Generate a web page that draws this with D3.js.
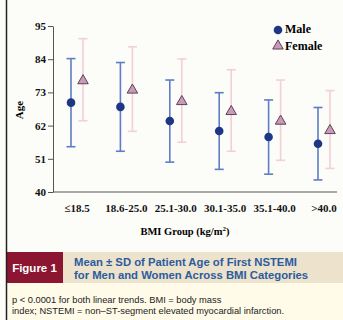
<!DOCTYPE html>
<html>
<head>
<meta charset="utf-8">
<script src="https://cdn.jsdelivr.net/npm/d3@7"></script>
<style>
  body { margin: 0; background: #fcfcf8; }
  svg { display: block; }
</style>
</head>
<body>
<div id="chart"></div>
<script>
// Data
const groups = ["≤18.5", "18.6-25.0", "25.1-30.0", "30.1-35.0", "35.1-40.0", ">40.0"];
const maleMean = [69.6, 68.2, 63.5, 60.2, 58.2, 56.0];
const maleSD = [14.6, 14.7, 13.6, 12.7, 12.3, 12.0];
const femaleMean = [77.2, 74.1, 70.3, 67.0, 63.8, 60.7];
const femaleSD = [13.6, 14.0, 13.8, 13.5, 13.3, 12.9];
const yTicks = [40, 51, 62, 73, 84, 95];

const W = 343, H = 320;
const svg = d3.select("#chart").append("svg")
    .attr("width", W)
    .attr("height", H);

// background pieces
svg.append("rect").attr("x", 0).attr("y", 0).attr("width", W).attr("height", 252).attr("fill", "#fcfcf8");
svg.append("rect").attr("x", 6).attr("y", 252).attr("width", 57).attr("height", 31).attr("fill", "#8c1531");
svg.append("rect").attr("x", 63).attr("y", 252).attr("width", W - 63).attr("height", 31).attr("fill", "#ede2cb");
svg.append("rect").attr("x", 6).attr("y", 283).attr("width", W - 6).attr("height", H - 283).attr("fill", "#fffbe8");
svg.append("line").attr("x1", 6.5).attr("x2", 6.5).attr("y1", 0).attr("y2", H)
    .attr("stroke", "#222").attr("stroke-width", 1.5);

// scales
const x = d3.scalePoint().domain(groups).range([77, 324]);
const y = d3.scaleLinear().domain([40, 95]).range([192, 26]);

const serif = "'Liberation Serif', 'DejaVu Serif', serif";
const sans = "'Liberation Sans', Arial, sans-serif";

// y axis
const yAxis = svg.append("g")
    .attr("transform", "translate(53,0)")
    .call(d3.axisLeft(y).tickValues(yTicks).tickSize(5).tickPadding(2).tickSizeOuter(0));
yAxis.select(".domain").attr("stroke", "#555");
yAxis.selectAll(".tick line").attr("stroke", "#555");
yAxis.selectAll("text")
    .attr("fill", "#111")
    .style("font-family", serif)
    .style("font-weight", "bold")
    .style("font-size", "11px");

// x axis line
svg.append("line")
    .attr("x1", 53).attr("x2", 337)
    .attr("y1", y(40)).attr("y2", y(40))
    .attr("stroke", "#555");

// x labels
svg.selectAll(".xlab")
    .data(groups)
    .enter().append("text")
    .attr("x", d => x(d))
    .attr("y", 212)
    .attr("text-anchor", "middle")
    .style("font-family", serif)
    .style("font-weight", "bold")
    .style("font-size", "11px")
    .attr("fill", "#111")
    .text(d => d);

// axis titles
svg.append("text")
    .attr("transform", "translate(23,110) rotate(-90)")
    .attr("text-anchor", "middle")
    .style("font-family", serif)
    .style("font-weight", "bold")
    .style("font-size", "11px")
    .text("Age");

svg.append("text")
    .attr("x", 185)
    .attr("y", 235)
    .attr("text-anchor", "middle")
    .style("font-family", serif)
    .style("font-weight", "bold")
    .style("font-size", "10.5px")
    .html("BMI Group (kg/m<tspan dy='-4' font-size='7px'>2</tspan><tspan dy='4'>)</tspan>");

// error bars
function errorBars(mean, sd, dx, color) {
    const g = svg.append("g");
    groups.forEach((grp, i) => {
        const cx = x(grp) + dx;
        const top = y(mean[i] + sd[i]), bot = y(mean[i] - sd[i]);
        g.append("line").attr("x1", cx).attr("x2", cx).attr("y1", top).attr("y2", bot)
            .attr("stroke", color).attr("stroke-width", 1.6);
        [top, bot].forEach(yy => {
            g.append("line").attr("x1", cx - 4.5).attr("x2", cx + 4.5).attr("y1", yy).attr("y2", yy)
                .attr("stroke", color).attr("stroke-width", 1.6);
        });
    });
}
errorBars(maleMean, maleSD, -6, "#5d7ec4");
errorBars(femaleMean, femaleSD, 6, "#f3cfd6");

// markers
const tri = d3.symbol().type(d3.symbolTriangle).size(48);
svg.selectAll(".female")
    .data(groups)
    .enter().append("path")
    .attr("d", tri)
    .attr("transform", (d, i) => `translate(${x(d) + 6},${y(femaleMean[i]) + 1})`)
    .attr("fill", "#c89cb6")
    .attr("stroke", "#5e4257")
    .attr("stroke-width", 1);

svg.selectAll(".male")
    .data(groups)
    .enter().append("circle")
    .attr("cx", d => x(d) - 6)
    .attr("cy", (d, i) => y(maleMean[i]))
    .attr("r", 4.3)
    .attr("fill", "#1f3684");

// legend
svg.append("circle").attr("cx", 278).attr("cy", 30).attr("r", 4.3).attr("fill", "#1f3684");
svg.append("path").attr("d", tri).attr("transform", "translate(278,46)")
    .attr("fill", "#c89cb6").attr("stroke", "#5e4257");
svg.append("text").attr("x", 285).attr("y", 33)
    .style("font-family", serif).style("font-weight", "bold").style("font-size", "12px")
    .text("Male");
svg.append("text").attr("x", 285).attr("y", 50)
    .style("font-family", serif).style("font-weight", "bold").style("font-size", "12px")
    .text("Female");

// caption
svg.append("text").attr("x", 34.5).attr("y", 272).attr("text-anchor", "middle")
    .style("font-family", sans).style("font-weight", "bold").style("font-size", "11.5px")
    .attr("fill", "#fff").text("Figure 1");
svg.append("text").attr("x", 74).attr("y", 266)
    .style("font-family", sans).style("font-weight", "bold").style("font-size", "11.3px")
    .attr("fill", "#2b5c9e").text("Mean ± SD of Patient Age of First NSTEMI");
svg.append("text").attr("x", 74).attr("y", 279)
    .style("font-family", sans).style("font-weight", "bold").style("font-size", "11.3px")
    .attr("fill", "#2b5c9e").text("for Men and Women Across BMI Categories");

svg.append("text").attr("x", 12).attr("y", 303)
    .style("font-family", sans).style("font-size", "9.3px").attr("fill", "#222")
    .text("p < 0.0001 for both linear trends. BMI = body mass");
svg.append("text").attr("x", 12).attr("y", 314)
    .style("font-family", sans).style("font-size", "9.3px").attr("fill", "#222")
    .text("index; NSTEMI = non–ST-segment elevated myocardial infarction.");
</script>
</body>
</html>
